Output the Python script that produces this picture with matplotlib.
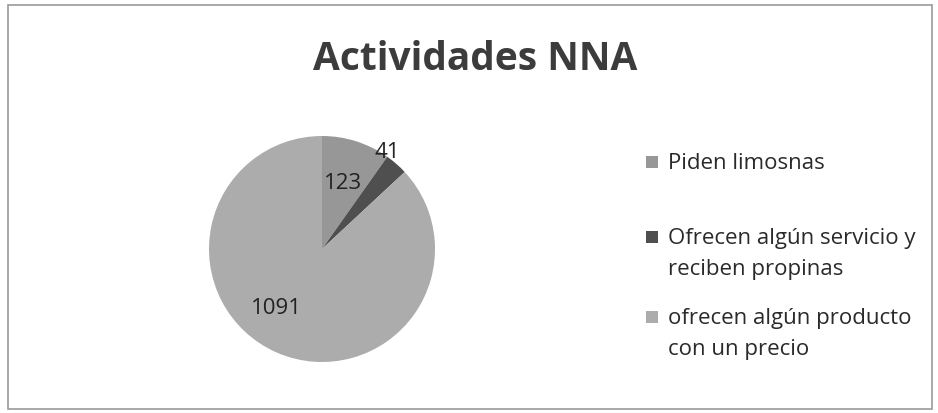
import numpy as np
import matplotlib
matplotlib.use("Agg")
import matplotlib.pyplot as plt
from matplotlib.patches import Rectangle

# datos del gráfico
categorias = ["Piden limosnas",
              "Ofrecen algún servicio y\nreciben propinas",
              "ofrecen algún producto\ncon un precio"]
valores = [123, 41, 1091]
colores = ["#979797", "#4f4f4f", "#acacac"]
titulo = "Actividades NNA"

W, H = 938, 413
fig = plt.figure(figsize=(W / 100, H / 100), dpi=100)
plt.rcParams['font.family'] = ['Open Sans', 'DejaVu Sans']

# marco exterior
fig.patches.append(Rectangle((8 / W, 4 / H), 924 / W, 404 / H, transform=fig.transFigure,
                             fill=False, edgecolor="#9a9a9a", linewidth=1.2))

fig.text(475 / W, 1 - 60 / H, titulo, ha="center", va="center",
         fontsize=28, fontweight="bold", color="#3c3c3c")

# pastel: centro (322, 249), radio 113 px
cx, cy, r = 322, 249, 113
ax = fig.add_axes([(cx - r) / W, 1 - (cy + r) / H, 2 * r / W, 2 * r / H])
wedges, _ = ax.pie(valores, colors=colores, startangle=90, counterclock=False,
                   radius=1, wedgeprops=dict(linewidth=0))
ax.set_xlim(-1, 1)
ax.set_ylim(-1, 1)
ax.set_aspect("equal")
ax.axis("off")

# etiquetas de datos
dist = [0.61, 1.03, 0.66]
desv = [0, 7, -14]
for w, v, d, o in zip(wedges, valores, dist, desv):
    ang = np.deg2rad((w.theta1 + w.theta2) / 2 + o)
    ax.text(d * np.cos(ang), d * np.sin(ang), str(v), ha="center", va="center",
            fontsize=16, color="#222222")

# leyenda (a mano, para controlar el interlineado)
ley_y = [162, 237, 317]
for cat, col, y in zip(categorias, colores, ley_y):
    fig.patches.append(Rectangle((646 / W, 1 - (y + 6) / H), 12 / W, 12 / H,
                                 transform=fig.transFigure, facecolor=col, edgecolor="none"))
    fig.text(668 / W, 1 - (y - 9) / H, cat, ha="left", va="top", fontsize=16,
             color="#2a2a2a", linespacing=1.62)

fig.savefig("out.png", dpi=100, facecolor="white")
